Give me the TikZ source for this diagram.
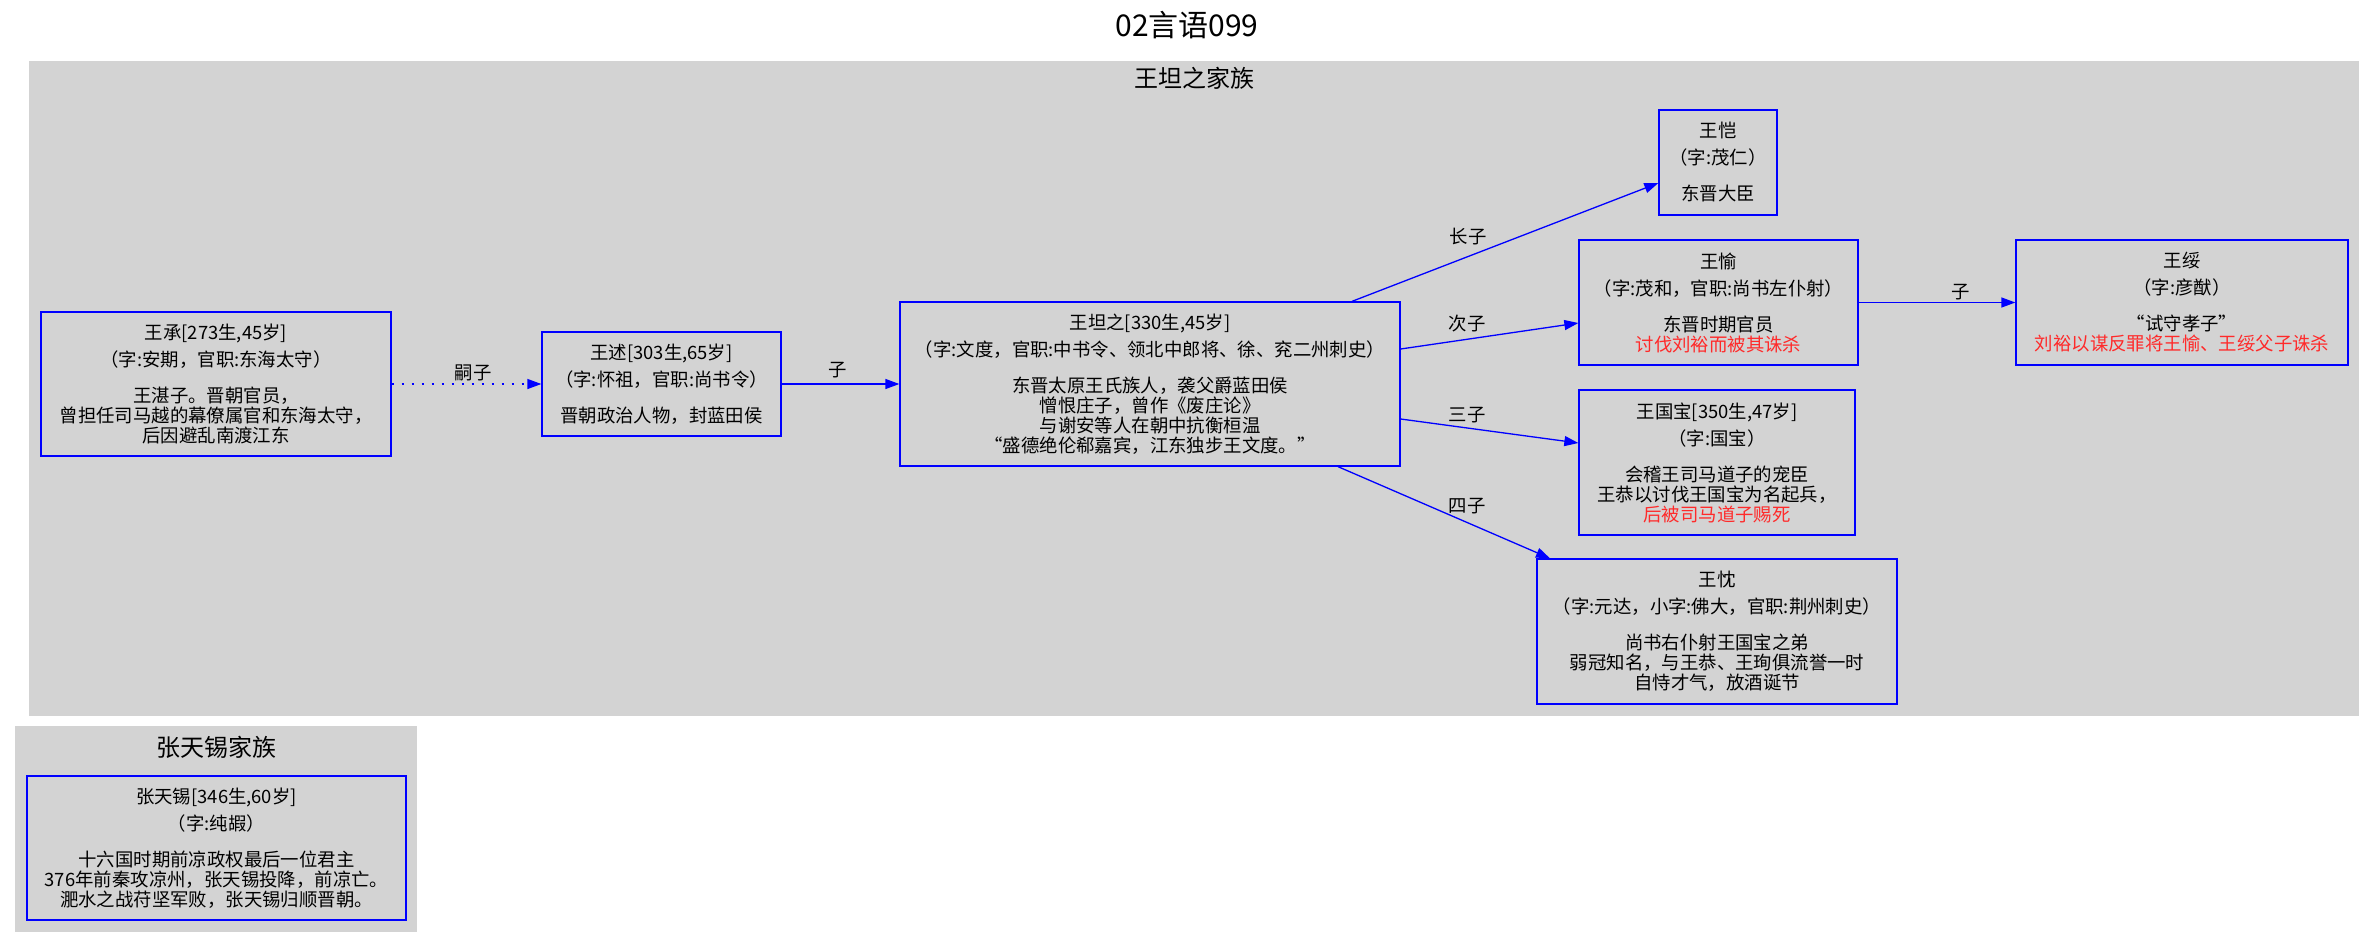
\documentclass[tikz,border=0pt]{standalone}
\usepackage{fontspec}
\setmainfont{Noto Sans CJK SC}
\usetikzlibrary{arrows.meta,calc}
\definecolor{clfill}{HTML}{D3D3D3}
\definecolor{txtred}{HTML}{FF2A2A}
% three-part person label: name, courtesy name / office, description
\newcommand\pinfo[3]{#1\\[7pt]#2\\[16pt]#3}

\begin{document}
\begin{tikzpicture}[x=1pt,y=-1pt,
  person/.style={draw=blue, line width=1.3pt, align=center, inner sep=0pt,
    font=\fontsize{18.4}{20}\selectfont},
  rel/.style={draw=blue, line width=1.3pt, -{Triangle[length=14pt,width=10pt]}},
  adopted/.style={dash pattern=on 2.5pt off 7.5pt},
  elabel/.style={font=\fontsize{18.4}{20}\selectfont, inner sep=0pt},
  cltitle/.style={font=\fontsize{24}{26}\selectfont, inner sep=0pt}]

\useasboundingbox (0,0) rectangle (2375,948);
\fill[white] (0,0) rectangle (2375,948);

% title
\node[font=\fontsize{30}{32}\selectfont, inner sep=0pt] (title) at (1187,25) {02言语099};

% family clusters
\fill[clfill] (29,61) rectangle (2359,716);
\node[cltitle] (c1) at (1194,78) {王坦之家族};
\fill[clfill] (15,726) rectangle (417,932);
\node[cltitle] (c2) at (216,747) {张天锡家族};

% persons
\node[person, minimum width=350pt, minimum height=144pt] (wc) at (216,384)
  {\pinfo{王承[273生,45岁]}{（字:安期，官职:东海太守）}{王湛子。晋朝官员，\\曾担任司马越的幕僚属官和东海太守，\\后因避乱南渡江东}};
\node[person, minimum width=239pt, minimum height=104pt] (ws) at (661.5,384)
  {\pinfo{王述[303生,65岁]}{（字:怀祖，官职:尚书令）}{晋朝政治人物，封蓝田侯}};
\node[person, minimum width=500pt, minimum height=164pt] (wtz) at (1150,384)
  {\pinfo{王坦之[330生,45岁]}{（字:文度，官职:中书令、领北中郎将、徐、兖二州刺史）}{东晋太原王氏族人，袭父爵蓝田侯\\憎恨庄子，曾作《废庄论》\\与谢安等人在朝中抗衡桓温\\“盛德绝伦郗嘉宾，江东独步王文度。”}};
\node[person, minimum width=118pt, minimum height=105pt] (wk) at (1718,162.5)
  {\pinfo{王恺}{（字:茂仁）}{东晋大臣}};
\node[person, minimum width=279pt, minimum height=125pt] (wy) at (1718.5,302.5)
  {\pinfo{王愉}{（字:茂和，官职:尚书左仆射）}{东晋时期官员\\\textcolor{txtred}{讨伐刘裕而被其诛杀}}};
\node[person, minimum width=332pt, minimum height=125pt] (wsui) at (2182,302.5)
  {\pinfo{王绥}{（字:彦猷）}{“试守孝子”\\\textcolor{txtred}{刘裕以谋反罪将王愉、王绥父子诛杀}}};
\node[person, minimum width=276pt, minimum height=145pt] (wgb) at (1717,462.5)
  {\pinfo{王国宝[350生,47岁]}{（字:国宝）}{会稽王司马道子的宠臣\\王恭以讨伐王国宝为名起兵，\\\textcolor{txtred}{后被司马道子赐死}}};
\node[person, minimum width=360pt, minimum height=145pt] (wch) at (1717,631.5)
  {\pinfo{王忱}{（字:元达，小字:佛大，官职:荆州刺史）}{尚书右仆射王国宝之弟\\弱冠知名，与王恭、王珣俱流誉一时\\自恃才气，放酒诞节}};
\node[person, minimum width=379pt, minimum height=144pt] (ztx) at (216.5,848)
  {\pinfo{张天锡[346生,60岁]}{（字:纯嘏）}{十六国时期前凉政权最后一位君主\\376年前秦攻凉州，张天锡投降，前凉亡。\\淝水之战苻坚军败，张天锡归顺晋朝。}};

% relations
\draw[rel, adopted] (wc.east) -- (ws.west);
\node[elabel] (l1) at (473,373) {嗣子};
\draw[rel] (ws.east) -- (wtz.west);
\node[elabel] (l2) at (838,370) {子};
\draw[rel] ([xshift=202pt]wtz.north) -- ([yshift=-20.5pt]wk.west);
\node[elabel] (l3) at (1468,237) {长子};
\draw[rel] ([yshift=35pt]wtz.east) -- ([yshift=-20.5pt]wy.west);
\node[elabel] (l4) at (1467,324) {次子};
\draw[rel] ([yshift=-35pt]wtz.east) -- ([yshift=19.5pt]wgb.west);
\node[elabel] (l5) at (1467,415) {三子};
\draw[rel] ([xshift=188pt]wtz.south) -- ([xshift=-167pt]wch.north);
\node[elabel] (l6) at (1467,506) {四子};
\draw[rel] (wy.east) -- (wsui.west);
\node[elabel] (l7) at (1961,292) {子};

\end{tikzpicture}
\end{document}
